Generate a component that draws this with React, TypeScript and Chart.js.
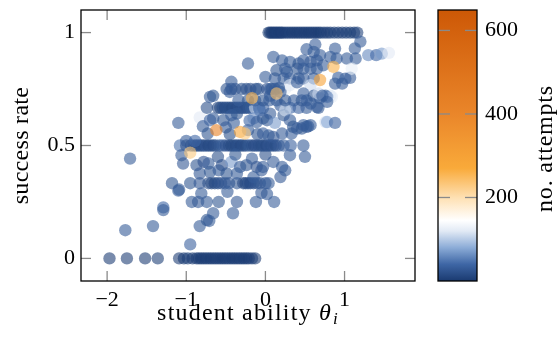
import React, { useEffect, useRef } from 'react';
import { Chart, registerables } from 'chart.js';

Chart.register(...registerables);

const FONT = "'Liberation Serif', 'DejaVu Serif', serif";

// axis ticks / limits
const xTickValues = [-2, -1, 0, 1];
const yTickValues = [0, 0.5, 1];
const cbTickValues = [200, 400, 600];
const xLimits = [-2.33, 1.89];
const yLimits = [-0.1, 1.1];
const cbLimits = [0, 649];

// colormap (no. attempts -> colour)
const cmapValues = [0, 40, 80, 120, 145, 200, 270, 400, 649];
const cmapColors = [
  [26, 58, 112],
  [62, 102, 165],
  [140, 172, 215],
  [226, 234, 245],
  [255, 255, 255],
  [254, 224, 178],
  [249, 170, 58],
  [234, 134, 42],
  [205, 88, 6],
];

// data: [student ability, success rate, no. attempts]
const bandZero = [
  [-1.97, 0, 4], [-1.75, 0, 5], [-1.52, 0, 4], [-1.36, 0, 6], [-1.09, 0, 5], [-1.03, 0, 4],
  [-0.98, 0, 7], [-0.92, 0, 5], [-0.87, 0, 4], [-0.84, 0, 6], [-0.81, 0, 3], [-0.78, 0, 5],
  [-0.75, 0, 4], [-0.72, 0, 6], [-0.69, 0, 3], [-0.66, 0, 5], [-0.63, 0, 4], [-0.6, 0, 6],
  [-0.57, 0, 5], [-0.54, 0, 3], [-0.51, 0, 4], [-0.48, 0, 5], [-0.45, 0, 6], [-0.42, 0, 3],
  [-0.39, 0, 4], [-0.36, 0, 5], [-0.33, 0, 4], [-0.3, 0, 6], [-0.27, 0, 3], [-0.24, 0, 5],
  [-0.21, 0, 4], [-0.17, 0, 6], [-0.13, 0, 5],
];

const bandOne = [
  [0.04, 1, 3], [0.06, 1, 4], [0.08, 1, 2], [0.1, 1, 5], [0.12, 1, 3], [0.14, 1, 4],
  [0.16, 1, 6], [0.18, 1, 3], [0.2, 1, 4], [0.22, 1, 5], [0.25, 1, 3], [0.28, 1, 4],
  [0.31, 1, 6], [0.34, 1, 3], [0.37, 1, 5], [0.4, 1, 4], [0.43, 1, 3], [0.46, 1, 6],
  [0.49, 1, 4], [0.52, 1, 5], [0.55, 1, 3], [0.58, 1, 4], [0.61, 1, 6], [0.64, 1, 5],
  [0.67, 1, 4], [0.7, 1, 3], [0.74, 1, 6], [0.78, 1, 5], [0.82, 1, 4], [0.87, 1, 7],
  [0.92, 1, 5], [0.97, 1, 6], [1.02, 1, 8], [1.07, 1, 6], [1.12, 1, 7], [1.16, 1, 8],
];

const bandHalf = [
  [-1.08, 0.5, 45], [-1.0, 0.5, 20], [-0.94, 0.5, 15], [-0.9, 0.5, 18], [-0.87, 0.5, 12],
  [-0.84, 0.5, 20], [-0.81, 0.5, 14], [-0.78, 0.5, 16], [-0.75, 0.5, 22], [-0.72, 0.5, 12],
  [-0.69, 0.5, 18], [-0.66, 0.5, 14], [-0.63, 0.5, 20], [-0.58, 0.5, 25], [-0.54, 0.5, 30],
  [-0.5, 0.5, 22], [-0.46, 0.5, 18], [-0.43, 0.5, 12], [-0.4, 0.5, 16], [-0.37, 0.5, 14],
  [-0.34, 0.5, 20], [-0.31, 0.5, 12], [-0.28, 0.5, 18], [-0.25, 0.5, 15], [-0.21, 0.5, 25],
  [-0.17, 0.5, 20], [-0.14, 0.5, 14], [-0.11, 0.5, 22], [-0.08, 0.5, 18], [-0.05, 0.5, 16],
  [-0.02, 0.5, 20], [0.01, 0.5, 14], [0.04, 0.5, 24], [0.07, 0.5, 18], [0.1, 0.5, 22],
  [0.13, 0.5, 16], [0.17, 0.5, 28], [0.23, 0.5, 30], [0.32, 0.5, 35], [0.48, 0.5, 30],
];

const bandTwoThirds = [
  [-0.74, 0.667, 20], [-0.6, 0.667, 15], [-0.57, 0.667, 12], [-0.54, 0.667, 18],
  [-0.51, 0.667, 14], [-0.48, 0.667, 20], [-0.45, 0.667, 16], [-0.42, 0.667, 12],
  [-0.39, 0.667, 18], [-0.36, 0.667, 14], [-0.33, 0.667, 20], [-0.3, 0.667, 16],
  [-0.27, 0.667, 22], [-0.24, 0.667, 18], [-0.21, 0.667, 25], [-0.18, 0.667, 30],
  [-0.13, 0.667, 110], [-0.08, 0.667, 40], [-0.03, 0.667, 35], [0.21, 0.667, 120],
  [0.31, 0.667, 40], [0.42, 0.667, 35], [0.52, 0.667, 30], [0.67, 0.667, 25],
];

const bandThreeQuarters = [
  [-0.49, 0.75, 25], [-0.43, 0.75, 20], [-0.38, 0.75, 22], [-0.3, 0.75, 25],
  [-0.24, 0.75, 20], [-0.19, 0.75, 22], [-0.12, 0.75, 20], [-0.09, 0.75, 25],
  [0.02, 0.75, 22], [0.08, 0.75, 25], [0.12, 0.75, 30], [0.17, 0.75, 28], [0.25, 0.75, 125],
];

const bandThird = [
  [-1.18, 0.333, 25], [-0.95, 0.333, 25], [-0.83, 0.333, 28], [-0.72, 0.333, 20],
  [-0.68, 0.333, 15], [-0.64, 0.333, 12], [-0.6, 0.333, 18], [-0.56, 0.333, 22],
  [-0.51, 0.333, 25], [-0.46, 0.333, 28], [-0.36, 0.333, 25], [-0.28, 0.333, 15],
  [-0.25, 0.333, 12], [-0.22, 0.333, 18], [-0.19, 0.333, 14], [-0.15, 0.333, 20],
  [-0.11, 0.333, 22], [-0.07, 0.333, 25], [0.0, 0.333, 28], [0.04, 0.333, 30],
];

const bandQuarter = [
  [-0.93, 0.25, 30], [-0.85, 0.25, 28], [-0.74, 0.25, 30], [-0.59, 0.25, 25],
  [-0.36, 0.25, 28], [-0.12, 0.25, 30], [0.11, 0.25, 32],
];

const scatterLow = [
  [-1.77, 0.125, 30], [-1.42, 0.143, 30], [-1.29, 0.226, 40], [-1.29, 0.214, 30],
  [-0.95, 0.062, 35], [-0.83, 0.143, 30], [-0.74, 0.17, 25], [-0.71, 0.166, 30],
  [-0.66, 0.2, 30], [-0.41, 0.2, 30], [-0.81, 0.288, 30], [-0.48, 0.295, 30],
  [0.02, 0.285, 30], [-0.05, 0.29, 28], [-1.1, 0.3, 30], [-1.09, 0.305, 30],
  [-1.71, 0.442, 30],
];

const scatterMid = [
  [-1.06, 0.457, 30], [-1.04, 0.42, 28], [-0.87, 0.413, 25], [-0.78, 0.427, 22],
  [-0.72, 0.42, 30], [-0.83, 0.376, 28], [-0.7, 0.383, 25], [-0.59, 0.39, 30],
  [-0.55, 0.413, 22], [-0.43, 0.427, 70], [-0.32, 0.405, 30], [-0.24, 0.413, 25],
  [-0.17, 0.442, 30], [-0.11, 0.405, 22], [-0.05, 0.39, 28], [-0.03, 0.405, 30],
  [0.1, 0.427, 30], [0.21, 0.405, 30], [0.19, 0.36, 28], [0.25, 0.39, 30],
  [-0.15, 0.36, 30], [-0.49, 0.376, 25], [-0.36, 0.376, 30], [0.31, 0.457, 30],
  [0.5, 0.45, 30], [-0.95, 0.468, 230], [-1.0, 0.52, 30], [-0.89, 0.52, 40],
  [-0.6, 0.45, 20], [-0.38, 0.46, 25], [0.0, 0.46, 20],
];

const scatterUpperMid = [
  [-1.1, 0.6, 30], [-0.83, 0.624, 120], [-0.79, 0.585, 30], [-0.73, 0.553, 25],
  [-0.7, 0.612, 35], [-0.66, 0.62, 30], [-0.53, 0.612, 25], [-0.5, 0.58, 30],
  [-0.43, 0.634, 30], [-0.36, 0.641, 25], [-0.45, 0.55, 20], [-0.4, 0.6, 30],
  [-0.22, 0.568, 30], [-0.2, 0.61, 40], [-0.15, 0.62, 60], [-0.11, 0.604, 30],
  [-0.1, 0.55, 25], [-0.07, 0.656, 50], [-0.03, 0.553, 30], [-0.03, 0.62, 30],
  [0.02, 0.612, 25], [0.04, 0.545, 30], [0.06, 0.641, 30], [0.1, 0.538, 28],
  [0.12, 0.6, 70], [0.19, 0.678, 30], [0.21, 0.553, 30], [0.23, 0.634, 25],
  [0.25, 0.656, 115], [0.31, 0.612, 30], [0.33, 0.553, 30], [0.35, 0.583, 25],
  [0.4, 0.575, 30], [0.46, 0.575, 25], [0.48, 0.59, 30], [0.52, 0.583, 28],
  [0.54, 0.585, 30], [0.57, 0.59, 30], [0.76, 0.604, 110], [0.78, 0.604, 80],
  [0.88, 0.6, 35], [-0.62, 0.568, 420], [-0.32, 0.56, 290], [-0.26, 0.553, 230],
];

const scatterUpper = [
  [-0.7, 0.715, 30], [-0.66, 0.72, 25], [-0.45, 0.737, 30], [-0.43, 0.782, 30],
  [-0.22, 0.863, 30], [-0.34, 0.7, 30], [-0.22, 0.7, 25], [-0.13, 0.7, 30],
  [-0.03, 0.7, 25], [0.05, 0.7, 30], [0.14, 0.7, 30], [0.25, 0.7, 25], [0.36, 0.7, 30],
  [0.46, 0.7, 25], [0.52, 0.7, 30], [0.06, 0.72, 30], [0.19, 0.737, 30],
  [0.0, 0.804, 30], [0.12, 0.797, 30], [0.14, 0.833, 25], [0.27, 0.826, 30],
  [0.1, 0.892, 30], [0.21, 0.877, 30], [0.31, 0.87, 30], [0.42, 0.863, 25],
  [0.48, 0.877, 30], [0.57, 0.87, 28], [0.65, 0.877, 30], [0.73, 0.855, 30],
  [0.25, 0.84, 30], [0.4, 0.84, 25], [0.48, 0.84, 30], [0.57, 0.84, 30], [0.65, 0.84, 30],
  [0.92, 0.8, 30], [1.01, 0.796, 35], [1.07, 0.8, 30], [0.88, 0.774, 30], [0.97, 0.774, 30],
  [0.23, 0.797, 30], [0.31, 0.797, 30], [0.42, 0.797, 25], [0.48, 0.797, 30],
  [0.61, 0.797, 30], [0.31, 0.767, 120], [0.4, 0.78, 30], [0.57, 0.767, 110],
  [0.82, 0.72, 115], [0.76, 0.72, 30], [0.84, 0.715, 125], [0.78, 0.715, 60],
  [0.06, 0.75, 30], [0.17, 0.755, 30], [0.48, 0.73, 30], [0.61, 0.72, 25],
  [0.69, 0.71, 30], [0.67, 0.73, 110], [0.72, 0.72, 30], [0.65, 0.67, 30],
  [0.57, 0.686, 30], [0.78, 0.693, 30], [0.63, 0.947, 30], [0.52, 0.926, 30],
  [0.61, 0.914, 30], [0.69, 0.9, 30], [0.88, 0.929, 30], [0.82, 0.892, 30],
  [0.9, 0.885, 30], [1.03, 0.885, 30], [1.14, 0.885, 30], [1.2, 0.96, 30],
  [1.13, 0.93, 30], [1.3, 0.9, 60], [1.4, 0.9, 40], [1.47, 0.907, 70], [1.56, 0.91, 120],
  [1.09, 0.84, 125], [-0.17, 0.71, 260], [0.14, 0.73, 240], [0.69, 0.79, 300],
  [0.86, 0.848, 260],
];

const allPoints = [
  ...bandZero, ...bandOne, ...bandHalf, ...bandTwoThirds, ...bandThreeQuarters,
  ...bandThird, ...bandQuarter, ...scatterLow, ...scatterMid, ...scatterUpperMid, ...scatterUpper,
];

function cmap(v: number): number[] {
  if (v <= cmapValues[0]) return cmapColors[0];
  for (let i = 1; i < cmapValues.length; i++) {
    if (v <= cmapValues[i]) {
      const t = (v - cmapValues[i - 1]) / (cmapValues[i] - cmapValues[i - 1]);
      const a = cmapColors[i - 1];
      const b = cmapColors[i];
      return [0, 1, 2].map((k) => Math.round(a[k] + (b[k] - a[k]) * t));
    }
  }
  return cmapColors[cmapColors.length - 1];
}

const rgba = (c: number[], a: number) => `rgba(${c[0]},${c[1]},${c[2]},${a})`;

const fmt = (v: number) => (v < 0 ? '\u2212' + String(-v) : String(v));

const zeroPad = (s: any) => {
  s.paddingTop = 0;
  s.paddingBottom = 0;
  s.paddingLeft = 0;
  s.paddingRight = 0;
};

const decorPlugin = {
  id: 'decor',
  afterDraw(chart: any) {
    const { ctx, chartArea: a, scales } = chart;
    ctx.save();
    const line = (x1: number, y1: number, x2: number, y2: number) => {
      ctx.beginPath();
      ctx.moveTo(x1, y1);
      ctx.lineTo(x2, y2);
      ctx.stroke();
    };
    // tick marks inside the box
    ctx.strokeStyle = '#8a8a8a';
    ctx.lineWidth = 1.3;
    xTickValues.forEach((v) => {
      const px = scales.x.getPixelForValue(v);
      line(px, a.bottom, px, a.bottom - 10);
      line(px, a.top, px, a.top + 10);
    });
    yTickValues.forEach((v) => {
      const py = scales.y.getPixelForValue(v);
      line(a.left, py, a.left + 10, py);
      line(a.right, py, a.right - 10, py);
    });
    // frame
    ctx.strokeStyle = '#000';
    ctx.lineWidth = 1.3;
    ctx.strokeRect(a.left, a.top, a.right - a.left, a.bottom - a.top);

    // x tick labels
    ctx.fillStyle = '#000';
    ctx.font = `22px ${FONT}`;
    ctx.textAlign = 'center';
    ctx.textBaseline = 'middle';
    xTickValues.forEach((v) => {
      ctx.fillText(fmt(v), scales.x.getPixelForValue(v), a.bottom + 19);
    });

    // colour bar
    const cb = scales.cb;
    const cl = a.right + 23;
    const cr = a.right + 62;
    const ct = cb.getPixelForValue(cbLimits[1]);
    const cbot = cb.getPixelForValue(cbLimits[0]);
    const grad = ctx.createLinearGradient(0, cbot, 0, ct);
    cmapValues.forEach((v, i) => {
      grad.addColorStop((v - cbLimits[0]) / (cbLimits[1] - cbLimits[0]), rgba(cmapColors[i], 1));
    });
    ctx.fillStyle = grad;
    ctx.fillRect(cl, ct, cr - cl, cbot - ct);
    ctx.strokeStyle = '#8a8a8a';
    ctx.lineWidth = 1.3;
    cbTickValues.forEach((v) => {
      const py = cb.getPixelForValue(v);
      line(cl, py, cl + 12, py);
      line(cr, py, cr - 12, py);
    });
    ctx.strokeStyle = '#000';
    ctx.lineWidth = 1.3;
    ctx.strokeRect(cl, ct, cr - cl, cbot - ct);

    // titles
    ctx.fillStyle = '#000';
    ctx.textBaseline = 'alphabetic';
    const sp = 1.2;
    (ctx as any).letterSpacing = `${sp}px`;
    const main = 'student ability ';
    ctx.font = `24px ${FONT}`;
    const w1 = ctx.measureText(main).width;
    ctx.font = `italic 24px ${FONT}`;
    const w2 = ctx.measureText('\u03b8').width;
    ctx.font = `italic 17px ${FONT}`;
    const w3 = ctx.measureText('i').width;
    const total = w1 + w2 + w3 + 1;
    let sx = (a.left + a.right) / 2 - total / 2;
    const base = 320;
    ctx.textAlign = 'left';
    ctx.font = `24px ${FONT}`;
    ctx.fillText(main, sx, base);
    sx += w1;
    ctx.font = `italic 24px ${FONT}`;
    ctx.fillText('\u03b8', sx, base);
    sx += w2 + 1;
    ctx.font = `italic 17px ${FONT}`;
    ctx.fillText('i', sx, base + 4);

    ctx.font = `24px ${FONT}`;
    ctx.textAlign = 'center';
    (ctx as any).letterSpacing = '0.3px';
    ctx.save();
    ctx.translate(28, (a.top + a.bottom) / 2);
    ctx.rotate(-Math.PI / 2);
    ctx.fillText('success rate', 0, 0);
    ctx.restore();

    (ctx as any).letterSpacing = '0.8px';
    ctx.save();
    ctx.translate(552, (a.top + a.bottom) / 2 + 3);
    ctx.rotate(-Math.PI / 2);
    ctx.fillText('no. attempts', 0, 0);
    ctx.restore();
    (ctx as any).letterSpacing = '0px';
    ctx.restore();
  },
};

export default function App() {
  const ref = useRef<HTMLCanvasElement | null>(null);
  useEffect(() => {
    if (!ref.current) return;
    const data = allPoints.map((p) => ({ x: p[0], y: p[1] }));
    const colors = allPoints.map((p) => rgba(cmap(p[2]), 0.6));
    const tickFont = { family: FONT, size: 22 };
    const chart = new Chart(ref.current, {
      type: 'scatter',
      data: {
        datasets: [
          {
            data,
            pointRadius: 6.2,
            pointHoverRadius: 6.2,
            pointBorderWidth: 0,
            pointBackgroundColor: colors,
            pointBorderColor: colors,
          },
        ],
      },
      options: {
        animation: false,
        responsive: false,
        devicePixelRatio: 1,
        layout: { padding: { top: 10, left: 0, right: 0, bottom: 0 } },
        plugins: { legend: { display: false }, tooltip: { enabled: false } },
        events: [],
        scales: {
          x: {
            type: 'linear',
            min: xLimits[0],
            max: xLimits[1],
            afterBuildTicks: (s: any) => {
              s.ticks = xTickValues.map((v) => ({ value: v }));
            },
            afterFit: (s: any) => {
              s.height = 66;
              zeroPad(s);
            },
            grid: { display: false, drawTicks: false },
            border: { display: false },
            ticks: { display: false },
          },
          y: {
            type: 'linear',
            min: yLimits[0],
            max: yLimits[1],
            afterBuildTicks: (s: any) => {
              s.ticks = yTickValues.map((v) => ({ value: v }));
            },
            afterFit: (s: any) => {
              s.width = 81;
              zeroPad(s);
            },
            grid: { display: false, drawTicks: false },
            border: { display: false },
            ticks: {
              color: '#000',
              font: tickFont,
              padding: 6,
              callback: (v: any) => String(v),
            },
          },
          cb: {
            type: 'linear',
            axis: 'y',
            position: 'right',
            min: cbLimits[0],
            max: cbLimits[1],
            afterBuildTicks: (s: any) => {
              s.ticks = cbTickValues.map((v) => ({ value: v }));
            },
            afterFit: (s: any) => {
              s.width = 145;
              zeroPad(s);
            },
            grid: { display: false, drawTicks: false },
            border: { display: false },
            ticks: {
              color: '#000',
              font: tickFont,
              padding: 70,
              callback: (v: any) => String(v),
            },
          },
        },
      },
      plugins: [decorPlugin],
    } as any);
    return () => chart.destroy();
  }, []);
  return (
    <div style={{ position: 'absolute', left: 0, top: 0, width: 560, height: 347, background: '#fff' }}>
      <canvas ref={ref} width={560} height={347} style={{ width: 560, height: 347, display: 'block' }} />
    </div>
  );
}
